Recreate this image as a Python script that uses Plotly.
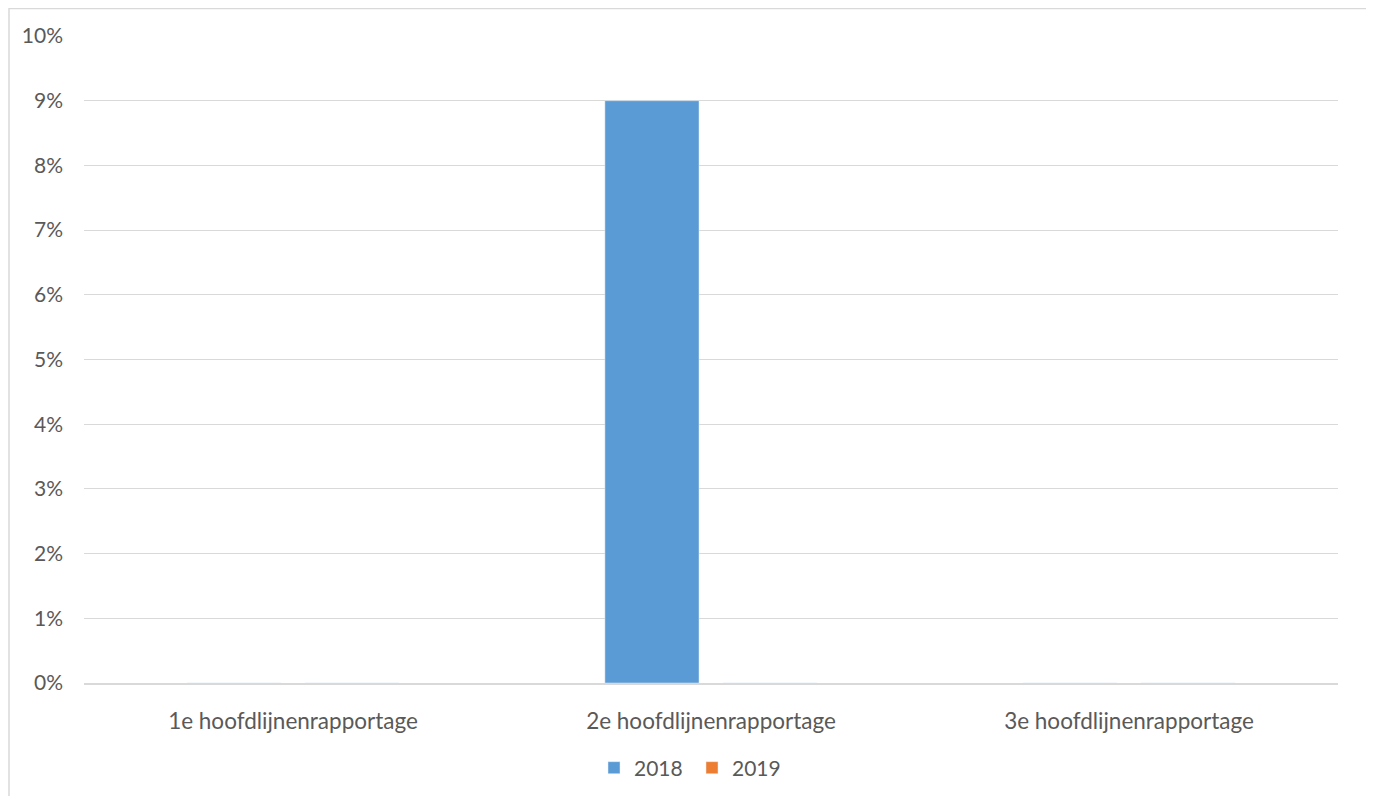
import plotly.graph_objects as go

categories = ["1e hoofdlijnenrapportage", "2e hoofdlijnenrapportage", "3e hoofdlijnenrapportage"]
series_2018 = [0.0, 0.09, 0.0]
series_2019 = [0.0, 0.0, 0.0]
y_ticks = [i / 100 for i in range(0, 11)]

# page has an 8px body margin, so the figure is sized to fit the 1374x796 window
W, H = 1366, 788
L, T = 76, 28
pw, ph = 1254, 647
R, B = W - L - pw, H - T - ph

fam = "Lato, Carlito, 'Open Sans', sans-serif"
col = "#595959"

fig = go.Figure()
fig.add_trace(go.Bar(name="2018", x=categories, y=series_2018, marker_color="#5b9bd5"))
fig.add_trace(go.Bar(name="2019", x=categories, y=series_2019, marker_color="#ed7d31"))

fig.update_layout(
    width=W, height=H,
    margin=dict(l=L, r=R, t=T, b=B, pad=0, autoexpand=False),
    paper_bgcolor="white", plot_bgcolor="white",
    barmode="group", bargap=0.435, bargroupgap=0.203,
    font=dict(family=fam, size=21, color=col),
    showlegend=True,
    legend=dict(orientation="h", x=0.5 - 19 / pw, xanchor="center",
                y=-(760 - (T + ph)) / ph, yanchor="middle",
                font=dict(family=fam, size=21, color=col),
                itemwidth=30, tracegroupgap=0, entrywidth=53, entrywidthmode="pixels"),
    xaxis=dict(showgrid=False, showline=True, linecolor="#d9d9d9", linewidth=2,
               ticks="", tickfont=dict(family=fam, size=22.5, color=col), ticklabelstandoff=17),
    yaxis=dict(range=[0, 0.10], tickvals=y_ticks, tickformat=".0%", showgrid=True,
               gridcolor="#d9d9d9", gridwidth=1.3, zeroline=False, showline=False,
               ticks="", tickfont=dict(family=fam, size=21, color=col), ticklabelstandoff=20),
    shapes=[dict(type="rect", xref="paper", yref="paper",
                 x0=(1 - L) / pw, x1=(1360 - L) / pw,
                 y0=-(H + 20 - T - ph) / ph, y1=(T - 0.5) / ph + 1,
                 line=dict(color="#d9d9d9", width=1.5), fillcolor="rgba(0,0,0,0)", layer="below")],
)

fig.write_html("out.html")
